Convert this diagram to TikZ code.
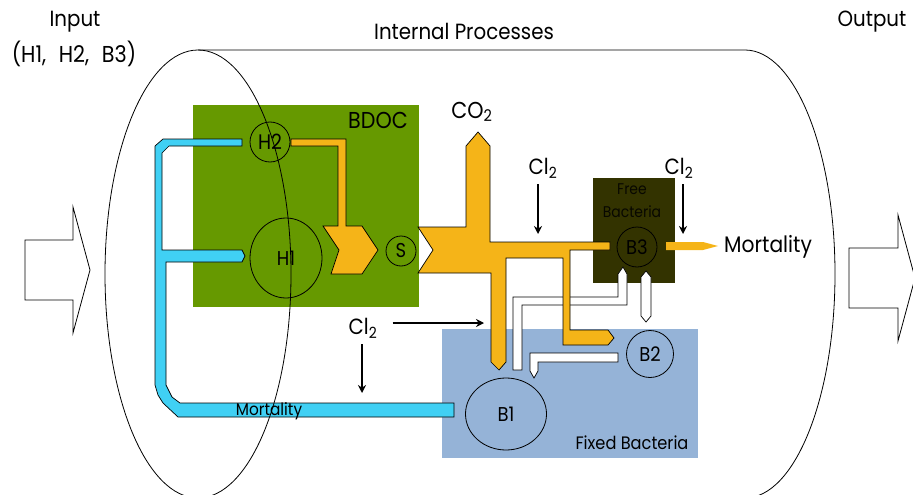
\documentclass[tikz,border=0pt]{standalone}
\usepackage{fontspec}
\setmainfont{Poppins}[FakeStretch=0.9]
\usetikzlibrary{arrows.meta,shapes.geometric}
\definecolor{bdocgreen}{RGB}{102,153,0}
\definecolor{fixedblue}{RGB}{149,179,215}
\definecolor{freeolive}{RGB}{51,51,0}
\definecolor{flowor}{RGB}{245,180,24}
\definecolor{flowcy}{RGB}{64,208,244}
\newcommand{\fsz}[1]{\fontsize{#1}{#1}\selectfont}
\begin{document}
\begin{tikzpicture}[x=1pt,y=-1pt,
  font=\fsz{22},
  pipe/.style={draw=black, line width=0.7pt, line join=miter},
  orpipe/.style={pipe, fill=flowor},
  cypipe/.style={pipe, fill=flowcy},
  whpipe/.style={pipe, fill=white},
  pool/.style={draw=none, rectangle, inner sep=0pt, anchor=north west},
  comp/.style={draw=black, line width=0.8pt, inner sep=0pt, font=\fsz{20}},
  arr/.style={-{Stealth[length=8pt,width=8pt]}, line width=1.6pt},
  lbl/.style={inner sep=0pt},
  bigarrow/.style={draw=black, line width=0.8pt, fill=white}]
\useasboundingbox (0,0) rectangle (913,495);

% pools
\node[pool, fill=bdocgreen, minimum width=226pt, minimum height=202pt] (bdoc) at (193,105) {};
\node[pool, fill=fixedblue, minimum width=256pt, minimum height=129pt] (fixed) at (442,329) {};
\node[pool, fill=freeolive, minimum width=82pt, minimum height=105pt] (free) at (593,178) {};

\node[lbl, anchor=east, font=\fsz{23}] (bdoclbl) at (408,120) {BDOC};
\node[lbl, font=\fsz{18}] (fixedlbl) at (632,443) {Fixed Bacteria};
\node[lbl, font=\fsz{15.5}, text=black!85!freeolive] (freelbl1) at (632,189) {Free};
\node[lbl, font=\fsz{15.5}, text=black!85!freeolive] (freelbl2) at (632,212) {Bacteria};

% cyan mortality pipe
\draw[cypipe] (242,139) -- (163,139) -- (155,146) -- (155,385) -- (158,395) -- (163,403)
  -- (178,417) -- (454,417) -- (454,403) -- (180,403) -- (172,397) -- (166,385)
  -- (166,262) -- (242,262) -- (245,256) -- (242,250) -- (162,250) -- (162,153)
  -- (169,146) -- (242,146) -- cycle;
\node[lbl, font=\fsz{17}] (mortlbl) at (269,411) {Mortality};

% white pipes
\draw[whpipe] (513,370) -- (513,297) -- (618,297) -- (618,274) -- (623,267) -- (627,274)
  -- (627,305) -- (522,305) -- (522,370) -- cycle;
\draw[whpipe] (641,277) -- (646,271) -- (651,277) -- (651,316) -- (646,322) -- (641,316) -- cycle;
\draw[whpipe] (618,353) -- (618,362) -- (538,362) -- (538,371) -- (534,378) -- (530,371)
  -- (530,353) -- cycle;

% orange pipes
\draw[orpipe] (291,139) -- (346,139) -- (346,226) -- (362,226) -- (378,250) -- (362,274)
  -- (331,274) -- (339,250) -- (323,226) -- (338,226) -- (338,146) -- (291,146) -- cycle;
\draw[orpipe] (418,227) -- (433,250) -- (418,273) -- (491,273) -- (491,362) -- (499,370)
  -- (506,362) -- (506,258) -- (563,258) -- (563,345) -- (608,345) -- (614,338)
  -- (608,330) -- (570,330) -- (570,250) -- (610,250) -- (610,242) -- (490,242)
  -- (490,146) -- (478,132) -- (466,146) -- (466,227) -- cycle;
\fill[flowor] (666,242) -- (703,242) -- (718,246) -- (703,250) -- (666,250) -- cycle;

% compartments
\node[comp, circle, minimum size=40pt, font=\fsz{21}] (H2) at (270,142) {H2};
\node[comp, ellipse, minimum width=72pt, minimum height=80pt] (H1) at (286,258) {\raisebox{-4pt}{H1}};
\node[comp, circle, minimum size=30pt] (S) at (401,251) {S};
\node[comp, circle, minimum size=40pt] (B3) at (637,247) {B3};
\node[comp, circle, minimum size=47pt] (B2) at (650,354) {B2};
\node[comp, ellipse, minimum width=81pt, minimum height=72pt] (B1) at (506,414) {B1};

% labels
\node[lbl, font=\fsz{23}] (co2) at (472,112) {CO\textsubscript{2}};
\node[lbl] (cl2a) at (543,168) {Cl\textsubscript{2}};
\node[lbl] (cl2b) at (679,168) {Cl\textsubscript{2}};
\node[lbl] (cl2c) at (363,328) {Cl\textsubscript{2}};
\node[lbl, anchor=west, font=\fsz{22.5}] (mortout) at (724,247) {Mortality};

% chlorine arrows
\coordinate (cl2aend) at (538,234);
\coordinate (cl2bend) at (683,234);
\coordinate (cl2cend1) at (484,323);
\coordinate (cl2cend2) at (362,393);
\draw[arr] (cl2a.south -| cl2aend) ++(0,6) -- (cl2aend);
\draw[arr] (cl2b.south -| cl2bend) ++(0,6) -- (cl2bend);
\draw[arr] (cl2c.east |- cl2cend1) ++(15,0) -- (cl2cend1);
\draw[arr] (cl2c.south -| cl2cend2) ++(0,6) -- (cl2cend2);

% cylinder
\draw[line width=0.8pt] (198,50) -- (745,50) arc[start angle=-90, end angle=90, x radius=90, y radius=224] -- (198,498);
\draw[line width=0.8pt] (198,274) ellipse [x radius=93, y radius=224];

% input / output arrows
\draw[bigarrow] (25,240) -- (73,240) -- (73,207) -- (90,270) -- (73,333) -- (73,300) -- (25,300) -- cycle;
\draw[bigarrow] (849,248) -- (898,248) -- (898,215) -- (915,278) -- (898,341) -- (898,308) -- (849,308) -- cycle;

% titles
\node[lbl] (inlbl1) at (75,22) {Input};
\node[lbl, font=\fsz{23}] (inlbl2) at (74,54) {(H1,\hspace{0.55em}H2,\hspace{0.55em}B3)};
\node[lbl] (internal) at (464,31) {Internal Processes};
\node[lbl] (outlbl) at (872,22) {Output};
\end{tikzpicture}
\end{document}
